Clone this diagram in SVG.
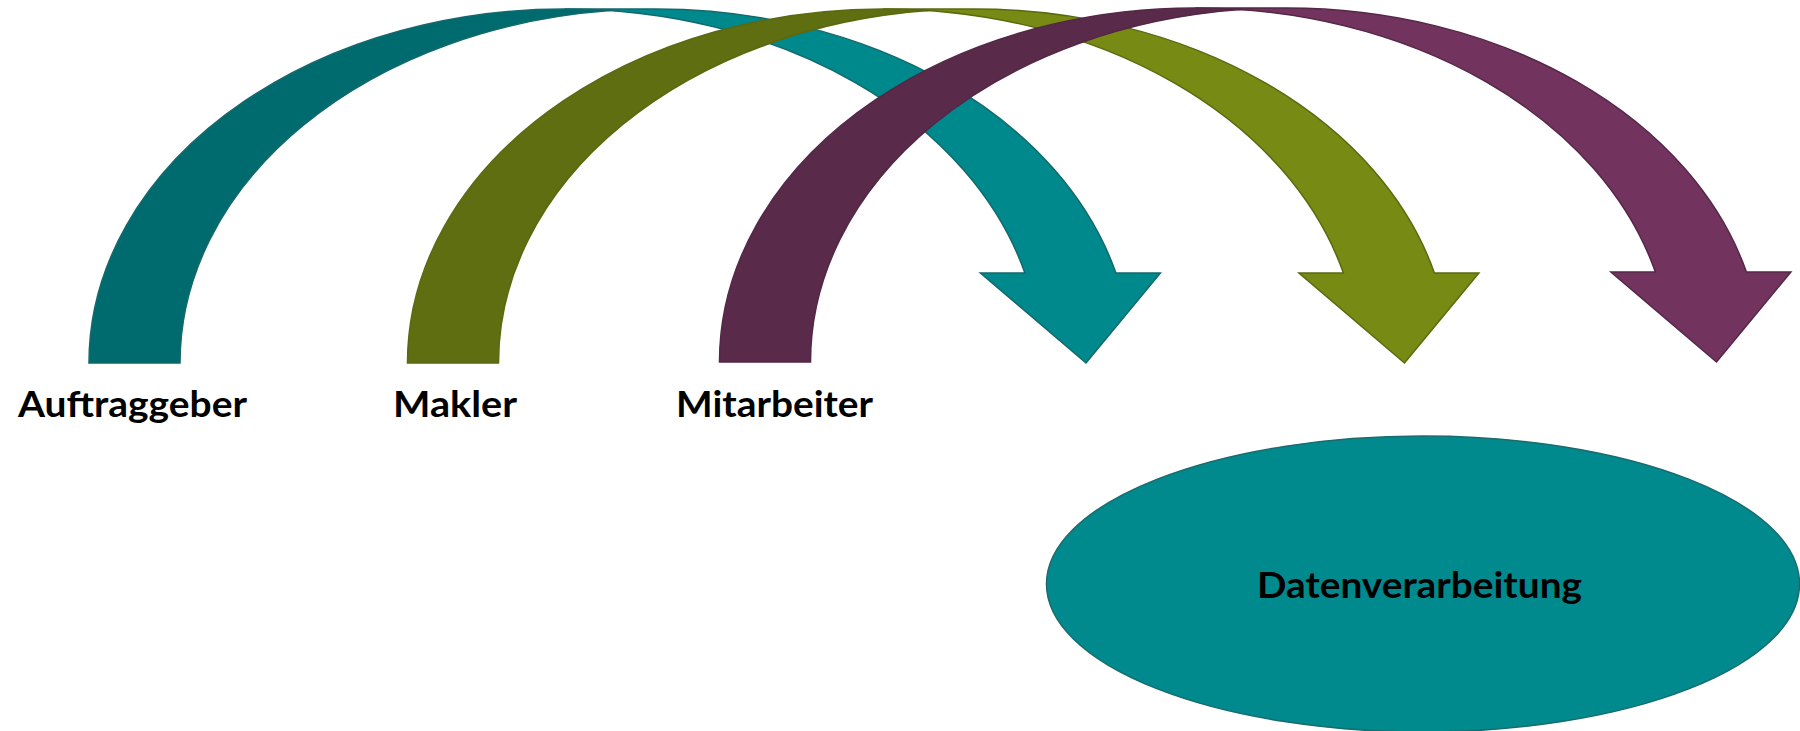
<svg xmlns="http://www.w3.org/2000/svg" width="1800" height="731" viewBox="0 0 1800 731">
  <style>
    .lbl { font-family: Lato, "Liberation Sans", sans-serif; font-weight: bold; font-size: 37px; fill: #000000; }
    .edge { stroke-width: 1.5; stroke-linejoin: miter; }
    .teal-front { fill: #00898D; stroke: #13686B; }
    .teal-back { fill: #006B6F; stroke: #13686B; }
    .olive-front { fill: #778B14; stroke: #5A6910; }
    .olive-back { fill: #5E6E10; stroke: #5A6910; }
    .plum-front { fill: #72345E; stroke: #542746; }
    .plum-back { fill: #5A2A4B; stroke: #542746; }
  </style>
  <defs>
    <path id="front" d="M1086 363 L980.4 273 L1024.9 273 A475.75 354 0 0 0 564.75 9 L655.75 9 A475.75 354 0 0 1 1115.9 273 L1160.4 273 Z"/>
    <path id="back" d="M610.25 10.6 A475.75 354 0 0 0 180 363 L89 363 A475.75 354 0 0 1 610.25 10.6 Z"/>
  </defs>

  <g id="connectors">
    <g id="arrow-auftraggeber">
      <use href="#front" class="edge teal-front"/>
      <use href="#back" class="edge teal-back"/>
    </g>
    <g id="arrow-makler" transform="translate(318.5,0)">
      <use href="#front" class="edge olive-front"/>
      <use href="#back" class="edge olive-back"/>
    </g>
    <g id="arrow-mitarbeiter" transform="translate(630.5,-1)">
      <use href="#front" class="edge plum-front"/>
      <use href="#back" class="edge plum-back"/>
    </g>
  </g>

  <g id="node-auftraggeber">
    <text class="lbl" x="18" y="417" textLength="229" lengthAdjust="spacingAndGlyphs">Auftraggeber</text>
  </g>
  <g id="node-makler">
    <text class="lbl" x="393" y="417" textLength="124" lengthAdjust="spacingAndGlyphs">Makler</text>
  </g>
  <g id="node-mitarbeiter">
    <text class="lbl" x="676" y="417" textLength="197" lengthAdjust="spacingAndGlyphs">Mitarbeiter</text>
  </g>
  <g id="node-datenverarbeitung">
    <ellipse cx="1423" cy="584" rx="376.5" ry="148" fill="#008A8E" stroke="#1A6B6E" stroke-width="1.5"/>
    <text class="lbl" x="1257" y="598" textLength="325" lengthAdjust="spacingAndGlyphs">Datenverarbeitung</text>
  </g>
</svg>
